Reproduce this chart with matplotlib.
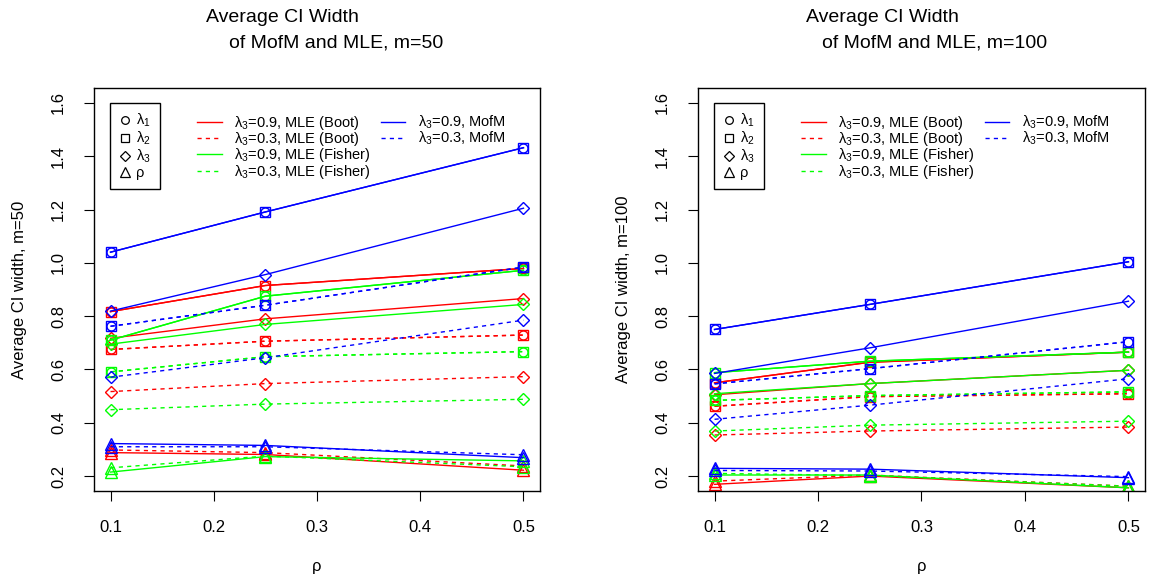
import matplotlib
matplotlib.use("Agg")
import matplotlib.pyplot as plt
from matplotlib.lines import Line2D

plt.rcParams['font.family'] = ['Liberation Sans', 'DejaVu Sans']
plt.rcParams['mathtext.fontset'] = 'custom'
plt.rcParams['mathtext.rm'] = 'Liberation Sans'
plt.rcParams['mathtext.it'] = 'Liberation Sans:italic'

rho = [0.1, 0.25, 0.5]
params = ['lam1', 'lam2', 'lam3', 'rho']

# rows: lambda1, lambda2, lambda3, rho  -- m = 50
boot09_m50 = [[0.817, 0.915, 0.979], [0.817, 0.915, 0.979], [0.717, 0.790, 0.866], [0.288, 0.281, 0.222]]
boot03_m50 = [[0.675, 0.706, 0.729], [0.675, 0.706, 0.729], [0.517, 0.547, 0.573], [0.298, 0.288, 0.238]]
fish09_m50 = [[0.710, 0.875, 0.972], [0.710, 0.875, 0.972], [0.695, 0.769, 0.844], [0.215, 0.273, 0.257]]
fish03_m50 = [[0.591, 0.648, 0.667], [0.591, 0.648, 0.667], [0.449, 0.470, 0.488], [0.231, 0.275, 0.235]]
mofm09_m50 = [[1.040, 1.191, 1.432], [1.040, 1.191, 1.432], [0.819, 0.956, 1.205], [0.322, 0.315, 0.269]]
mofm03_m50 = [[0.762, 0.841, 0.984], [0.762, 0.841, 0.984], [0.571, 0.644, 0.785], [0.310, 0.310, 0.280]]

# m = 100
boot09_m100 = [[0.550, 0.627, 0.665], [0.550, 0.627, 0.665], [0.505, 0.547, 0.597], [0.169, 0.200, 0.156]]
boot03_m100 = [[0.462, 0.498, 0.509], [0.462, 0.498, 0.509], [0.354, 0.369, 0.384], [0.181, 0.204, 0.162]]
fish09_m100 = [[0.588, 0.631, 0.665], [0.588, 0.631, 0.665], [0.509, 0.547, 0.597], [0.204, 0.204, 0.156]]
fish03_m100 = [[0.484, 0.502, 0.516], [0.484, 0.502, 0.516], [0.369, 0.391, 0.406], [0.210, 0.202, 0.162]]
mofm09_m100 = [[0.750, 0.844, 1.004], [0.750, 0.844, 1.004], [0.585, 0.681, 0.856], [0.229, 0.226, 0.194]]
mofm03_m100 = [[0.546, 0.603, 0.704], [0.546, 0.603, 0.704], [0.413, 0.466, 0.565], [0.221, 0.219, 0.198]]

xticks = [0.1, 0.2, 0.3, 0.4, 0.5]
yticks = [0.2, 0.4, 0.6, 0.8, 1.0, 1.2, 1.4, 1.6]

markers = {'lam1': ('o', 6.5), 'lam2': ('s', 6.5), 'lam3': ('D', 6.0), 'rho': ('^', 8)}
red, green, blue = '#FF0000', '#00FF00', '#0000FF'

panels = [
    (50, [(boot09_m50, red, '-'), (boot03_m50, red, '--'),
          (fish09_m50, green, '-'), (fish03_m50, green, '--'),
          (mofm09_m50, blue, '-'), (mofm03_m50, blue, '--')]),
    (100, [(boot09_m100, red, '-'), (boot03_m100, red, '--'),
           (fish09_m100, green, '-'), (fish03_m100, green, '--'),
           (mofm09_m100, blue, '-'), (mofm03_m100, blue, '--')]),
]

W, H = 1168, 581
fig = plt.figure(figsize=(W / 100, H / 100), dpi=100)
axes_px = [(94, 88, 540, 491), (698, 88, 1145, 491)]
title_px = [((282, 18), (336, 43)), ((882, 18), (935, 43))]

for k, (m, series) in enumerate(panels):
    x0, y0, x1, y1 = axes_px[k]
    ax = fig.add_axes([x0 / W, 1 - y1 / H, (x1 - x0) / W, (y1 - y0) / H])
    for rows, col, ls in series:
        for i, p in enumerate(params):
            mk, ms = markers[p]
            ax.plot(rho, rows[i], color=col, lw=1, ls=ls, dashes=(3, 3) if ls == '--' else (None, None),
                    marker=mk, ms=ms, mfc='none', mec=col, mew=1)
    ax.set_xlim(0.084, 0.516)
    ax.set_ylim(0.144, 1.656)
    ax.set_xticks(xticks)
    ax.set_xticklabels(['%.1f' % t for t in xticks])
    ax.set_yticks(yticks)
    ax.set_yticklabels(['%.1f' % t for t in yticks], rotation=90, va='center')
    ax.tick_params(direction='out', length=7, width=0.8, labelsize=12, pad=13)
    ax.tick_params(axis='x', pad=14)
    for s in ax.spines.values():
        s.set_linewidth(1)
    ax.set_xlabel('ρ', fontsize=12)
    ax.xaxis.set_label_coords(0.5, -0.168)
    ax.set_ylabel('Average CI width, m=%d' % m, fontsize=12)
    ax.yaxis.set_label_coords(-0.15, 0.5)

    (t1x, t1y), (t2x, t2y) = title_px[k]
    fig.text(t1x / W, 1 - t1y / H, 'Average CI Width', ha='center', va='center', fontsize=14)
    fig.text(t2x / W, 1 - t2y / H, 'of MofM and MLE, m=%d' % m, ha='center', va='center', fontsize=14)

    # symbol legend
    sym_handles = [Line2D([], [], ls='none', marker=markers[p][0], ms=markers[p][1] * 0.85,
                          mfc='none', mec='black', mew=0.9) for p in params]
    sym_labels = [r'$\mathrm{\lambda}_1$', r'$\mathrm{\lambda}_2$', r'$\mathrm{\lambda}_3$', 'ρ']
    leg1 = ax.legend(sym_handles, sym_labels, loc='upper left',
                     bbox_to_anchor=(16 / (x1 - x0), 1 - 15 / (y1 - y0)), borderaxespad=0,
                     fontsize=10.5, frameon=True, fancybox=False, edgecolor='black', framealpha=1,
                     handlelength=0.8, handletextpad=0.4, labelspacing=0.05, borderpad=0.6)
    leg1.get_frame().set_linewidth(1)
    ax.add_artist(leg1)

    # line legend
    line_handles = [Line2D([], [], color=red, lw=1),
                    Line2D([], [], color=red, lw=1, ls='--', dashes=(3, 3)),
                    Line2D([], [], color=green, lw=1),
                    Line2D([], [], color=green, lw=1, ls='--', dashes=(3, 3)),
                    Line2D([], [], color=blue, lw=1),
                    Line2D([], [], color=blue, lw=1, ls='--', dashes=(3, 3)),
                    Line2D([], [], alpha=0), Line2D([], [], alpha=0)]
    line_labels = [r'$\mathrm{\lambda}_3$=0.9, MLE (Boot)', r'$\mathrm{\lambda}_3$=0.3, MLE (Boot)',
                   r'$\mathrm{\lambda}_3$=0.9, MLE (Fisher)', r'$\mathrm{\lambda}_3$=0.3, MLE (Fisher)',
                   r'$\mathrm{\lambda}_3$=0.9, MofM', r'$\mathrm{\lambda}_3$=0.3, MofM', '', '']
    ax.legend(line_handles, line_labels, loc='upper left', ncol=2,
              bbox_to_anchor=(103 / (x1 - x0), 1 - 26 / (y1 - y0)), borderaxespad=0,
              fontsize=10.5, frameon=False, handlelength=1.7, handletextpad=0.85,
              labelspacing=-0.12, borderpad=0, columnspacing=0.7)

fig.savefig('out.png', dpi=100)
